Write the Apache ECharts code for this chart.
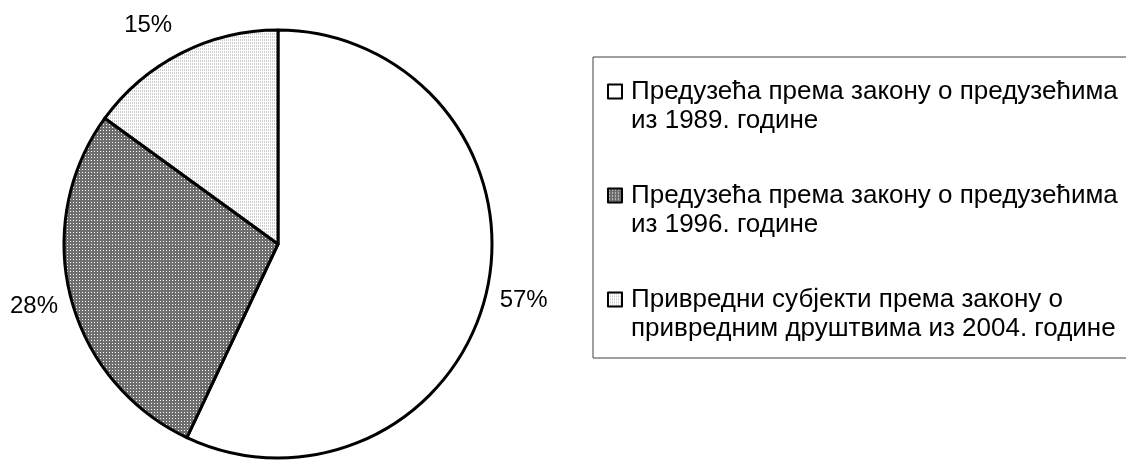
<!DOCTYPE html>
<html>
<head>
<meta charset="utf-8">
<script src="https://cdn.jsdelivr.net/npm/echarts@6/dist/echarts.min.js"></script>
<style>
html, body { margin: 0; padding: 0; background: #fff; }
#chart { width: 1126px; height: 460px; }
</style>
</head>
<body>
<div id="chart"></div>
<script>
// Подаци са графикона
var kategorije = [
	'Предузећа према закону о предузећима\nиз 1989. године',
	'Предузећа према закону о предузећима\nиз 1996. године',
	'Привредни субјекти према закону о\nпривредним друштвима из 2004. године'
];
var udeli = [57, 28, 15];

// Шрафуре за исечке
function sraf(w, h, pozadina, boja, tacke) {
	var c = document.createElement('canvas');
	c.width = w;
	c.height = h;
	var ctx = c.getContext('2d');
	ctx.fillStyle = pozadina;
	ctx.fillRect(0, 0, w, h);
	ctx.fillStyle = boja;
	for (var i = 0; i < tacke.length; i++) {
		ctx.fillRect(tacke[i][0], tacke[i][1], 1, 1);
	}
	return { image: c, repeat: 'repeat' };
}

var boje = [
	'#ffffff',
	sraf(3, 3, '#6e6e6e', '#ffffff', [[1, 1]]),
	sraf(2, 3, '#ffffff', '#cdcdcd', [[0, 0], [0, 1]])
];
var pomaci = [[0, 8], [0, 7], [0, -21]];

var font = '"Liberation Sans", Arial, sans-serif';

var podaci = [];
for (var i = 0; i < udeli.length; i++) {
	podaci.push({
		name: kategorije[i],
		value: udeli[i],
		itemStyle: { color: boje[i] },
		label: { offset: pomaci[i] }
	});
}

var chart = echarts.init(document.getElementById('chart'));

chart.setOption({
	animation: false,
	backgroundColor: '#fff',
	legend: {
		orient: 'vertical',
		left: 593,
		top: 57,
		padding: [20, 60, 15, 14],
		itemGap: 46,
		itemWidth: 14,
		itemHeight: 43,
		icon: 'path://M0,0h14v14h-14zM7,43h0',
		itemStyle: { borderWidth: 2, borderColor: '#000' },
		borderColor: '#404040',
		borderWidth: 1,
		selectedMode: false,
		textStyle: {
			fontFamily: font,
			fontSize: 26,
			lineHeight: 29,
			color: '#000',
			padding: [0, 0, 0, 4]
		},
		data: kategorije
	},
	series: [{
		type: 'pie',
		center: [278, 244],
		radius: 214,
		startAngle: 90,
		clockwise: true,
		avoidLabelOverlap: false,
		silent: true,
		itemStyle: { borderColor: '#000', borderWidth: 3 },
		label: {
			position: 'outside',
			formatter: '{c}%',
			fontFamily: font,
			fontSize: 24,
			color: '#000',
			distanceToLabelLine: 5
		},
		labelLine: { show: false, length: 8, length2: 0 },
		emphasis: { disabled: true },
		data: podaci
	}]
});
</script>
</body>
</html>
